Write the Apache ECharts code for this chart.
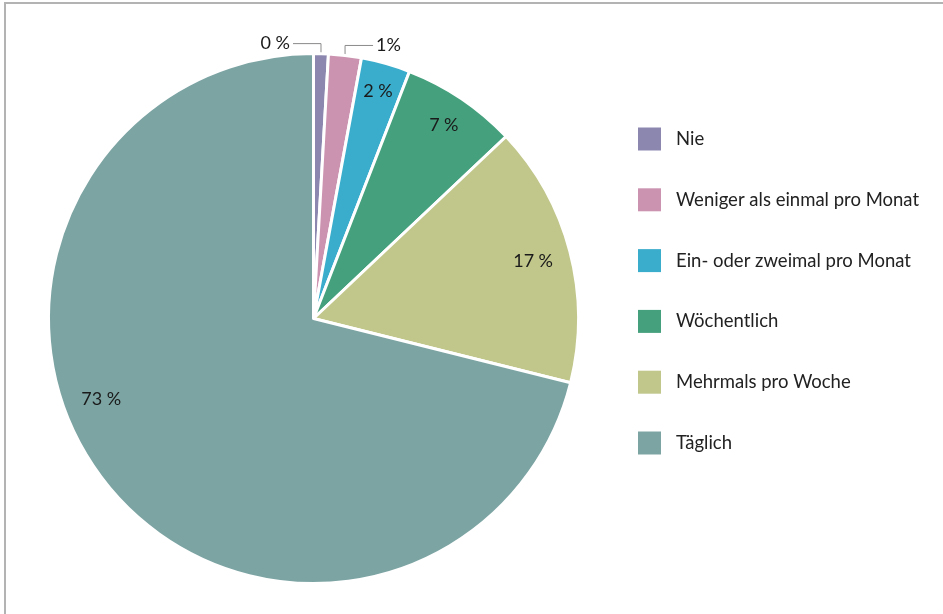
<!DOCTYPE html>
<html>
<head>
<meta charset="utf-8">
<script src="https://cdn.jsdelivr.net/npm/echarts@6/dist/echarts.min.js"></script>
<style>
  html, body { margin: 0; padding: 0; background: #fff; }
  #wrap { position: relative; width: 943px; height: 614px; }
  #chart { position: absolute; left: 0; top: 0; width: 943px; height: 614px; }
  #frame { position: absolute; left: 4px; top: 2px; right: 0; bottom: 0;
           border-top: 2px solid #b3b3b3; border-left: 2px solid #b3b3b3; pointer-events: none; }
</style>
</head>
<body>
<div id="wrap"><div id="chart"></div><div id="frame"></div></div>
<script>
const categories = ['Nie', 'Weniger als einmal pro Monat', 'Ein- oder zweimal pro Monat', 'Wöchentlich', 'Mehrmals pro Woche', 'Täglich'];
const shares = [0.9, 2.0, 3.0, 7.05, 15.95, 71.1];
const shareLabels = ['0\u202F%', '1%', '2\u202F%', '7\u202F%', '17\u202F%', '73\u202F%'];
const colors = ['#8b87af', '#cc93b0', '#3badcc', '#44a07d', '#c1c68a', '#7ca4a3'];

const CX = 313.5, CY = 318.5;
const outsideIdx = [0, 1];
const labelRadius = { 2: 236, 3: 233.5, 4: 227, 5: 227 };
const labelAngleShift = { 5: 17.2 };
const FONT = 'Lato, "Open Sans", sans-serif';

const chart = echarts.init(document.getElementById('chart'), null, { renderer: 'canvas' });

const data = categories.map((name, i) => {
  const item = { name: name, value: shares[i], itemStyle: { color: colors[i] } };
  if (outsideIdx.includes(i)) {
    item.label = { position: 'outside' };
    item.labelLine = { show: true, length: 10, length2: 28, lineStyle: { color: '#8a8a8a', width: 1 } };
  }
  return item;
});

chart.setOption({
  animation: false,
  backgroundColor: '#fff',
  legend: {
    orient: 'vertical',
    left: 638,
    top: 127.5,
    padding: 0,
    itemWidth: 23,
    itemHeight: 23,
    itemGap: 37.8,
    icon: 'rect',
    itemStyle: { borderWidth: 0 },
    textStyle: { fontFamily: FONT, fontSize: 18.5, color: '#222', padding: [0, 0, 0, 10] },
    data: categories
  },
  series: [{
    type: 'pie',
    center: [CX, CY],
    radius: 265,
    startAngle: 90,
    clockwise: true,
    avoidLabelOverlap: false,
    itemStyle: { borderColor: '#fff', borderWidth: 3 },
    label: {
      show: true,
      position: 'inside',
      fontFamily: FONT,
      fontSize: 18,
      color: '#1a1a1a',
      formatter: p => shareLabels[p.dataIndex]
    },
    labelLine: { show: false },
    emphasis: { disabled: true },
    labelLayout: function (p) {
      const i = p.dataIndex;
      if (outsideIdx.includes(i)) {
        const pts = p.labelLinePoints;
        if (!pts) return {};
        const x0 = pts[0][0], y0 = pts[0][1] + 5;
        const yl = pts[1][1];
        const dir = i === 0 ? -1 : 1;
        const x2 = x0 + dir * 28;
        return {
          x: x2 + dir * 3, y: yl,
          align: dir < 0 ? 'right' : 'left', verticalAlign: 'middle',
          labelLinePoints: [[x0, y0], [x0, yl], [x2, yl]]
        };
      }
      const r = p.labelRect;
      const lx = r.x + r.width / 2, ly = r.y + r.height / 2;
      let ang = Math.atan2(lx - CX, CY - ly);
      if (labelAngleShift[i]) ang += labelAngleShift[i] * Math.PI / 180;
      const R = labelRadius[i];
      return {
        x: CX + R * Math.sin(ang), y: CY - R * Math.cos(ang),
        align: 'center', verticalAlign: 'middle'
      };
    },
    data: data
  }]
});
</script>
</body>
</html>
